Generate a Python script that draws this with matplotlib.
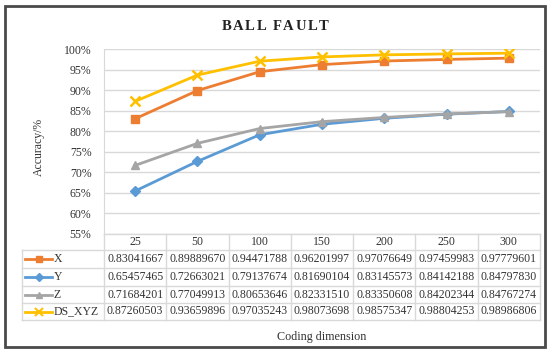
import matplotlib
matplotlib.use("Agg")
import matplotlib.pyplot as plt
from matplotlib.lines import Line2D
from matplotlib.patches import Rectangle
from matplotlib.transforms import blended_transform_factory
from matplotlib.ticker import FuncFormatter

categories = ["25", "50", "100", "150", "200", "250", "300"]
series_names = ["X", "Y", "Z", "DS_XYZ"]
x_vals = [0.83041667, 0.89889670, 0.94471788, 0.96201997, 0.97076649, 0.97459983, 0.97779601]
y_vals = [0.65457465, 0.72663021, 0.79137674, 0.81690104, 0.83145573, 0.84142188, 0.84797830]
z_vals = [0.71684201, 0.77049913, 0.80653646, 0.82331510, 0.83350608, 0.84202344, 0.84767274]
ds_vals = [0.87260503, 0.93659896, 0.97035243, 0.98073698, 0.98575347, 0.98804253, 0.98986806]
series = [x_vals, y_vals, z_vals, ds_vals]
colors = ["#ED7D31", "#5B9BD5", "#A5A5A5", "#FFC000"]
markers = ["s", "D", "^", "x"]
msizes = [6, 5, 6, 7]
title = "BALL FAULT"

W, H = 550, 352
plt.rcParams['font.family'] = ['Liberation Serif', 'DejaVu Serif']
fig = plt.figure(figsize=(W / 100, H / 100), dpi=100)

def fx(px):
    return px / W

def fy(py):
    return 1 - py / H

L, R, T, B = 104, 540, 49, 234
ax = fig.add_axes([fx(L), fy(B), fx(R) - fx(L), fy(T) - fy(B)])
xs = list(range(len(categories)))
for vals, c, m, ms, name in zip(series, colors, markers, msizes, series_names):
    ax.plot(xs, vals, color=c, lw=2, marker=m, ms=ms, mew=1.8 if m == "x" else 1,
            mec=c, mfc=c, label=name, zorder=3)

ax.set_xlim(-0.5, len(categories) - 0.5)
ax.set_ylim(0.55, 1.0)
ax.set_yticks([0.55 + 0.05 * i for i in range(10)])
ax.yaxis.set_major_formatter(FuncFormatter(lambda v, p: f"{round(v * 100)}%"))
ax.tick_params(axis='y', length=0, pad=9, labelsize=8.5, colors="#333333")
ax.tick_params(axis='x', length=0, labelbottom=False)
ax.grid(axis='y', color="#d9d9d9", lw=1)
ax.set_axisbelow(True)
for s in ["top", "right", "bottom"]:
    ax.spines[s].set_visible(False)
ax.spines["left"].set_color("#d9d9d9")
ax.set_ylabel("Accuracy/%", fontsize=8.5, labelpad=10, color="#333333")
ax.yaxis.set_label_coords(fx(45 - L) / (fx(R) - fx(L)), (fy(147) - fy(B)) / (fy(T) - fy(B)))

# letter-spaced title
renderer = fig.canvas.get_renderer()
spacing = 1.6
parts = []
total = 0.0
for ch in title:
    t = fig.text(0, fy(26), ch, ha="left", va="center", fontsize=10.5,
                 fontweight="bold", color="#222222")
    w = t.get_window_extent(renderer).width if ch != " " else 3.0
    parts.append((t, w))
    total += w + spacing
total -= spacing
xpos = 275 - total / 2
for t, w in parts:
    t.set_x(fx(xpos))
    xpos += w + spacing

# data table
gc = "#d9d9d9"
rows = [234, 250, 268, 286, 303, 320]
lt = fig.transFigure
col_w = (R - L) / len(categories)
for i, yy in enumerate(rows):
    x0 = L if i == 0 else 22
    fig.add_artist(Line2D([fx(x0), fx(R)], [fy(yy), fy(yy)], color=gc, lw=1, transform=lt))
for k in range(len(categories) + 1):
    xx = L + k * col_w
    fig.add_artist(Line2D([fx(xx), fx(xx)], [fy(rows[0]), fy(rows[-1])], color=gc, lw=1, transform=lt))
fig.add_artist(Line2D([fx(22), fx(22)], [fy(rows[1]), fy(rows[-1])], color=gc, lw=1, transform=lt))

bt = blended_transform_factory(ax.transData, fig.transFigure)
for j, cat in enumerate(categories):
    fig.text(j, fy((rows[0] + rows[1]) / 2), cat, transform=bt, ha="center", va="center",
             fontsize=8.5, color="#333333")
for r, (vals, c, m, ms, name) in enumerate(zip(series, colors, markers, msizes, series_names)):
    yc = fy((rows[r + 1] + rows[r + 2]) / 2)
    for j, v in enumerate(vals):
        fig.text(j, yc, f"{v:.8f}", transform=bt, ha="center", va="center",
                 fontsize=8.5, color="#333333")
    fig.add_artist(Line2D([fx(25), fx(52)], [yc, yc], color=c, lw=2, transform=lt))
    fig.add_artist(Line2D([fx(38.5)], [yc], color=c, marker=m, ms=ms - 1, mec=c, mfc=c,
                          mew=1.5 if m == "x" else 1, transform=lt))
    fig.text(fx(54), yc, name, ha="left", va="center", fontsize=8.5, color="#333333")

fig.text(fx(322), fy(337), "Coding dimension", ha="center", va="center", fontsize=8.7, color="#333333")

fig.add_artist(Rectangle((fx(5), fy(347)), fx(540), fy(6) - fy(347), transform=lt,
                         fill=False, edgecolor="#4a4a4a", lw=2))

fig.savefig("out.png", dpi=100)
